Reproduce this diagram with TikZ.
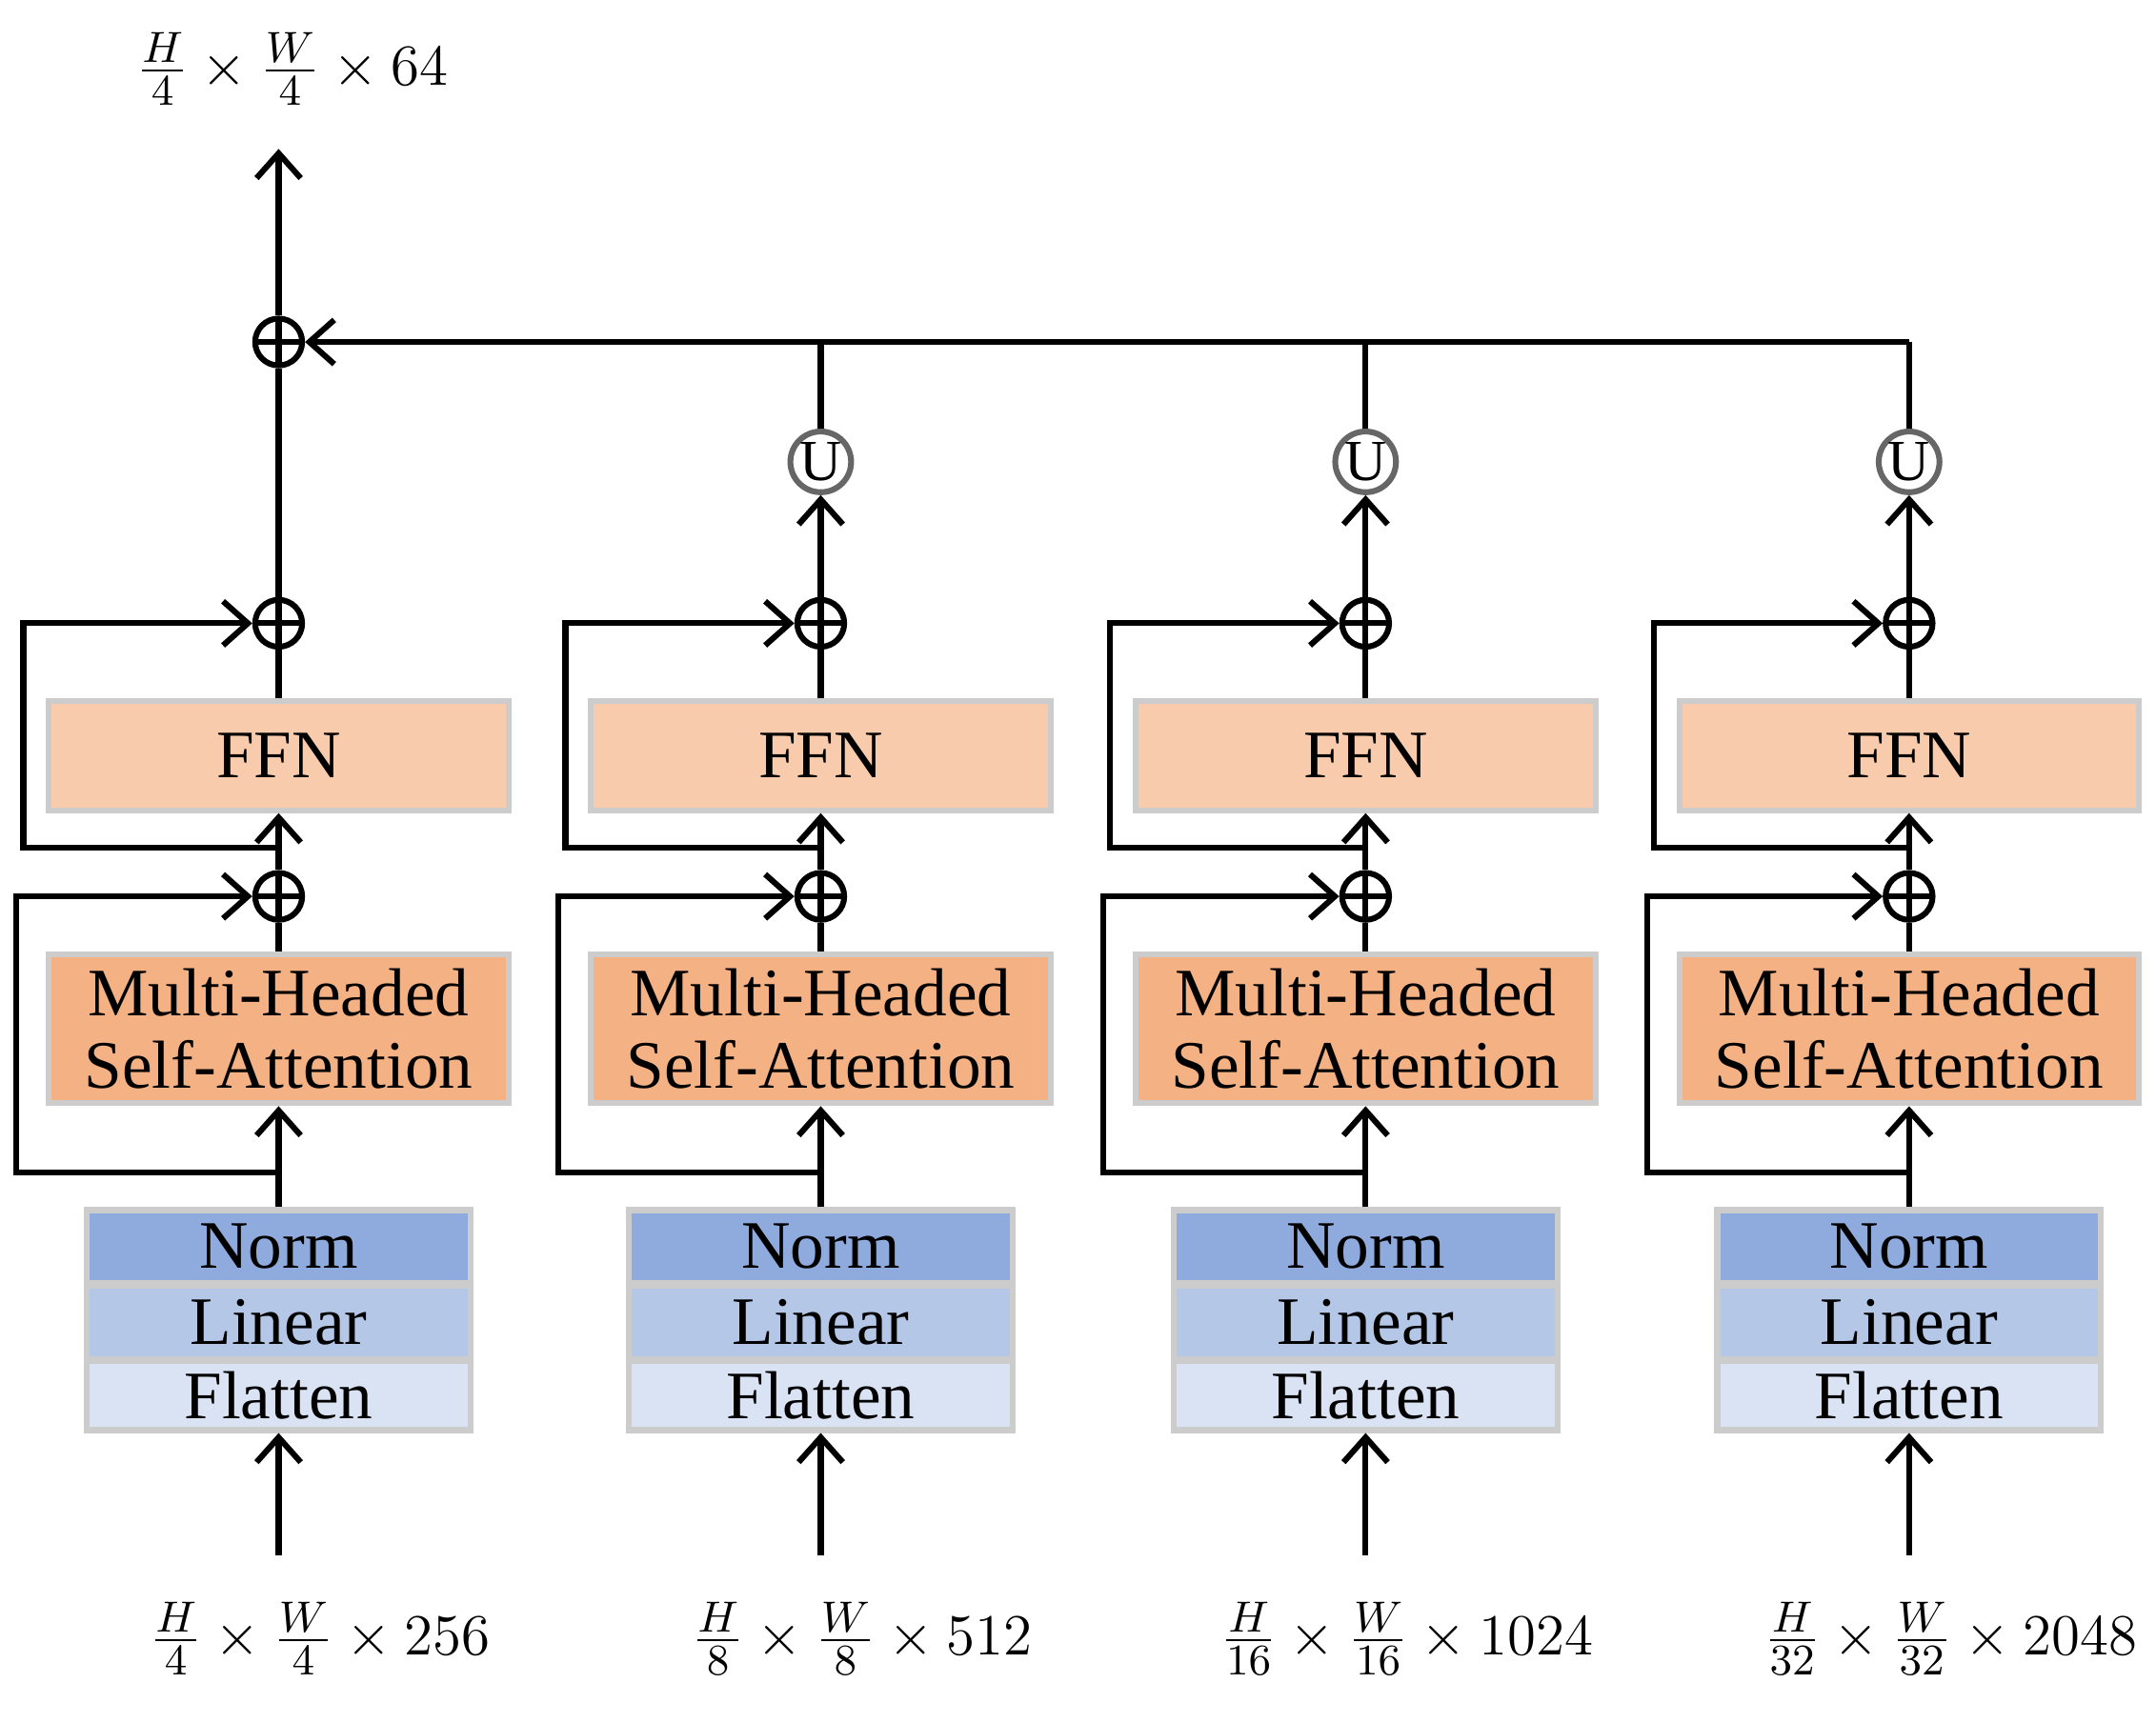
\documentclass[tikz,border=0pt]{standalone}
\usepackage{fontspec}
\setmainfont{Liberation Serif}
\usepackage{amsmath}
\usetikzlibrary{arrows.meta, positioning}
\definecolor{ffnc}{HTML}{F8CBAD}
\definecolor{mhac}{HTML}{F4B183}
\definecolor{normc}{HTML}{8FAADC}
\definecolor{linc}{HTML}{B4C7E7}
\definecolor{flatc}{HTML}{DAE3F3}
\begin{document}
\begin{tikzpicture}[x=0.01cm, y=-0.01cm,
    box/.style={draw=gray!40, line width=1.2pt, font=\fontsize{14}{16}\selectfont, align=center, inner sep=0pt},
    oplus/.style={circle, draw, inner sep=0pt, minimum size=0.34cm, path picture={
        \draw (path picture bounding box.north) -- (path picture bounding box.south)
              (path picture bounding box.west) -- (path picture bounding box.east);}},
    up/.style={circle, draw=gray!80!black, inner sep=0pt, minimum size=0.44cm, font=\fontsize{12}{14}\selectfont},
    lab/.style={font=\fontsize{13}{15}\selectfont},
    every path/.style={line width=1.2pt},
    >={Straight Barb[length=1.8mm, width=3.2mm]},
]
\useasboundingbox (0,0) rectangle (1563,1249);

\foreach \i/\cx/\lbl in {1/202/{$\frac{H}{4}\times\frac{W}{4}\times 256$},
                         2/595/{$\frac{H}{8}\times\frac{W}{8}\times 512$},
                         3/990/{$\frac{H}{16}\times\frac{W}{16}\times 1024$},
                         4/1384/{$\frac{H}{32}\times\frac{W}{32}\times 2048$}} {
  \node[box, fill=ffnc, minimum width=3.33cm, minimum height=0.79cm] (ffn\i) at (\cx,548) {FFN};
  \node[box, fill=mhac, minimum width=3.33cm, minimum height=1.08cm] (mha\i) at (\cx,746) {Multi-Headed\\[-1pt]Self-Attention};
  \node[box, fill=normc, minimum width=2.78cm, minimum height=0.53cm] (norm\i) at (\cx,904) {Norm};
  \node[box, fill=linc, minimum width=2.78cm, minimum height=0.53cm] (lin\i) at (\cx,959) {Linear};
  \node[box, fill=flatc, minimum width=2.78cm, minimum height=0.5cm] (flat\i) at (\cx,1012) {Flatten};
  \node[oplus] (pa\i) at (\cx,650) {};
  \node[oplus] (pb\i) at (\cx,452) {};
  \node[lab] (in\i) at (\cx+30,1188) {\lbl};
  \coordinate (src\i) at (\cx,1128);
  \coordinate (sa\i) at (\cx,850);
  \coordinate (sb\i) at (\cx,615);

  \draw[->] (src\i) -- (flat\i);
  \draw[->] (norm\i) -- (mha\i);
  \draw (mha\i) -- (pa\i);
  \draw[->] (pa\i) -- (ffn\i);
  \draw (ffn\i) -- (pb\i);
  \draw[->] (sa\i) -| ([xshift=-1.9cm]sa\i |- pa\i) -- (pa\i);
  \draw[->] (sb\i) -| ([xshift=-1.85cm]sb\i |- pb\i) -- (pb\i);
}

% upsampling branches
\node[oplus] (sum) at (202,248) {};
\foreach \i in {2,3,4} {
  \node[up, above=1.17cm of pb\i.center, anchor=center] (u\i) {U};
  \draw[->] (pb\i) -- (u\i);
  \draw (u\i) -- (u\i |- sum);
}
\draw[->] (u4 |- sum) -- (sum);
\draw (pb1) -- (sum);
\node[lab] (out) at (212,50) {$\frac{H}{4}\times\frac{W}{4}\times 64$};
\coordinate (outend) at (202,108);
\draw[->] (sum) -- (outend);
\end{tikzpicture}
\end{document}
